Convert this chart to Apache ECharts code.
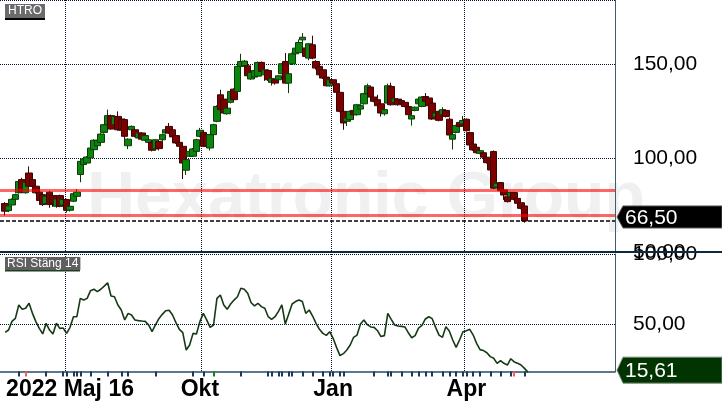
<!DOCTYPE html>
<html><head><meta charset="utf-8">
<script src="https://cdn.jsdelivr.net/npm/echarts@6/dist/echarts.min.js"></script>
<style>html,body{margin:0;padding:0;background:#fff}#c{width:722px;height:410px}</style>
</head><body><div id="c"></div>
<script>
// candles: [open, close, low, high], one per slot starting at slot 1
const candles = [
[75.8,71.7,69.4,76.5],[72.0,74.5,71.2,75.0],[75.0,78.0,74.5,78.5],[78.0,80.5,77.5,81.0],[81.5,87.5,81.0,88.0],
[88.5,82.0,81.5,89.5],[81.5,87.0,81.0,88.0],[92.0,85.0,84.5,95.5],[88.5,85.0,84.5,89.0],[85.0,81.5,81.0,85.5],
[81.8,77.4,77.0,82.0],[80.5,75.2,74.5,81.0],[75.8,79.6,75.0,80.5],[81.8,75.2,73.5,82.5],[80.0,75.8,74.0,80.5],
[74.3,78.2,73.5,78.8],[80.0,74.3,73.8,80.5],[75.0,77.9,74.5,78.5],[77.9,72.2,71.0,78.3],[72.2,74.3,71.5,75.0],
[77.0,81.0,76.5,81.5],[79.6,81.8,79.0,83.5],[91.2,98.2,87.1,98.5],[96.5,99.5,96.0,100.0],[97.3,100.5,97.0,101.0],
[100.0,105.3,99.5,106.0],[104.4,109.4,104.0,110.0],[106.5,109.4,106.0,110.0],[108.3,112.7,108.0,113.2],[113.6,117.7,113.0,118.0],
[117.7,122.5,117.0,125.7],[122.5,115.4,115.0,123.0],[117.7,122.1,117.0,122.5],[122.1,115.0,114.5,124.8],[120.7,114.7,114.0,121.0],
[120.4,111.5,108.0,121.0],[106.5,110.0,104.7,110.5],[115.0,116.8,114.5,117.3],[115.0,111.5,111.0,115.5],[110.6,113.3,110.0,113.8],
[113.3,110.0,109.5,113.8],[109.4,111.9,109.0,112.4],[108.3,109.7,107.5,110.0],[108.3,104.1,103.5,108.8],[104.8,109.7,104.0,110.0],
[108.8,105.0,104.0,109.2],[109.7,112.4,109.0,113.0],[113.3,115.0,112.8,115.5],[116.8,113.3,112.8,118.6],[115.0,111.2,110.8,115.5],
[111.9,108.0,107.5,112.4],[108.3,106.2,105.8,108.8],[106.2,97.3,88.8,106.6],[93.5,99.1,91.0,99.5],[100.9,103.5,100.5,104.0],
[100.9,104.8,100.5,105.3],[103.5,109.7,103.0,110.2],[111.5,114.7,111.0,116.0],[113.6,106.2,105.8,114.7],[112.4,106.2,105.5,112.8],
[105.3,112.4,104.0,112.8],[112.4,117.7,112.0,118.2],[119.5,127.4,119.0,128.0],[133.6,125.7,125.3,136.3],[131.3,123.9,123.5,131.8],
[123.5,126.5,123.0,127.0],[129.6,135.4,129.0,136.0],[136.6,131.0,130.5,137.0],[135.4,148.7,134.5,149.0],[148.7,151.3,146.0,155.4],
[149.0,151.5,145.0,152.0],[149.0,143.7,143.0,151.0],[142.0,145.5,141.5,146.0],[143.0,146.5,142.5,147.0],[143.5,150.8,143.0,151.3],
[150.8,146.0,145.0,151.3],[144.2,146.9,141.0,147.3],[146.5,141.6,141.0,147.0],[140.2,142.3,138.5,142.8],[141.6,139.8,139.0,142.0],
[141.6,143.7,141.0,144.0],[144.8,150.1,144.5,150.5],[151.3,139.8,139.5,155.8],[139.8,144.8,134.5,145.2],[150.0,155.4,149.5,156.0],
[155.4,158.4,155.0,160.0],[156.0,161.4,155.5,163.0],[162.8,164.2,161.0,166.4],[158.5,154.0,153.5,159.0],[153.1,160.7,152.0,161.2],
[160.2,153.1,152.5,165.0],[151.3,147.8,147.0,152.0],[148.7,144.2,143.8,149.0],[146.9,142.5,142.0,147.3],[143.0,138.4,138.0,143.5],
[138.4,141.6,138.0,142.0],[141.6,139.8,139.3,142.0],[139.5,134.9,134.5,140.0],[134.9,124.8,124.3,135.3],[124.8,118.6,115.0,125.2],
[119.5,121.2,117.0,121.6],[120.4,124.8,120.0,125.2],[125.3,123.0,120.5,125.8],[123.0,128.3,122.5,128.8],[126.0,127.8,125.5,128.5],
[128.8,134.2,128.3,134.6],[134.2,138.4,133.8,139.5],[137.7,132.4,132.0,138.2],[132.4,130.1,129.6,133.0],[131.0,127.8,127.3,133.6],
[128.8,123.9,122.0,129.2],[123.5,125.7,122.5,126.5],[129.2,138.4,128.8,139.5],[138.0,128.3,127.8,140.0],[129.7,131.5,129.0,132.0],
[131.3,128.3,127.8,131.8],[130.5,129.0,128.5,131.0],[129.6,127.4,126.9,130.0],[127.4,123.0,122.5,127.8],[120.7,122.5,117.2,123.0],
[125.3,127.0,124.8,127.4],[128.8,131.3,128.3,131.8],[127.4,132.4,127.0,132.8],[132.7,130.1,129.6,134.5],[131.9,127.8,127.4,132.3],
[129.2,120.7,120.2,129.6],[121.8,123.9,121.3,124.4],[124.8,120.0,119.5,125.2],[123.0,125.7,122.5,127.0],[125.3,122.1,121.5,125.8],
[120.6,112.2,111.8,121.6],[110.0,112.4,104.5,112.8],[113.6,117.2,113.0,117.7],[118.9,116.8,116.3,119.5],[118.1,119.9,117.5,122.3],
[120.6,114.5,114.0,121.0],[113.5,106.9,106.4,114.0],[107.4,104.3,103.8,107.8],[105.7,102.8,102.3,106.0],[102.5,103.9,102.0,104.3],
[102.8,100.4,99.9,103.2],[100.4,97.5,97.0,100.8],[97.2,93.6,93.1,98.4],[103.4,83.9,83.4,104.0],[84.4,86.5,84.0,87.0],
[86.9,82.6,82.1,87.2],[83.0,80.3,77.7,83.4],[79.4,76.8,76.3,79.8],[79.4,81.6,79.0,82.0],[81.6,78.0,77.5,82.0],
[78.5,75.9,75.4,79.0],[76.2,73.2,72.7,76.7],[74.5,66.5,65.6,75.0]
];
const rsi = [
44.0,45.7,51.9,54.0,63.6,60.5,61.2,64.8,57.6,51.7,
46.9,42.9,50.5,45.7,42.9,50.5,46.9,47.1,43.3,47.6,
55.2,55.2,68.3,67.1,68.3,73.8,74.8,73.1,74.8,77.1,
79.5,70.0,69.5,63.6,60.0,52.9,57.6,56.4,52.9,52.4,
52.1,51.9,49.3,44.5,49.3,53.8,56.9,59.5,59.8,56.4,
51.0,46.2,43.8,31.4,35.0,43.3,42.9,51.7,57.6,52.9,
47.6,49.3,68.3,70.7,63.6,60.5,64.3,67.1,69.5,75.5,
74.8,71.9,65.2,62.9,64.8,62.4,61.2,55.2,53.3,55.2,
59.0,63.6,50.0,57.1,64.3,66.0,67.1,66.0,57.6,60.0,
55.7,50.5,46.2,43.3,41.9,44.5,39.8,33.3,27.4,28.8,
31.4,35.0,40.5,42.1,50.0,52.9,49.5,47.9,47.6,45.2,
41.0,41.7,57.6,53.3,49.3,48.6,48.3,47.9,43.8,40.2,
41.7,47.1,49.0,53.6,55.2,53.8,47.6,42.1,40.5,48.1,
45.0,38.6,33.3,38.6,44.5,45.2,46.2,42.1,36.2,31.7,
31.0,29.5,26.7,25.5,21.9,23.8,21.9,20.7,25.2,22.9,
21.9,20.7,18.3,15.61
];
const slotCount = 180;
const xTickIdx = [20, 58, 97, 136];
const xTickLabels = ['2022 Maj 16', 'Okt', 'Jan', 'Apr'];
const gridLineIdx = [19, 59, 97, 136];
const eventIdx = [5,13,18,19,21,22,23,26,31,35,37,45,56,59,70,78,79,81,82,84,85,88,91,94,96,97,99,100,109,113,114,117,120,122,124,126,129,131,133,135,136,138,140,143,146,149,153];
const eventRedIdx = [7, 150];
const eventGreenIdx = [62];
const levelLines = [83.0, 69.5];
const lastPrice = 66.50;
const lastRsi = 15.61;
const rsiLevels = [50, 100];

const categories = Array.from({length: slotCount}, (_, i) => String(i));
const candleData = [['-','-','-','-']].concat(candles);
const rsiData = ['-'].concat(rsi);
const fmt = v => Number(v).toFixed(2).replace('.', ',');
const FONT = '"Liberation Sans", Arial, sans-serif';
const dotted = {color: '#00152b', type: [1, 1], width: 1};

const chart = echarts.init(document.getElementById('c'), null, {renderer: 'canvas'});
const catAxisBase = (gi) => ({
  type: 'category', gridIndex: gi, data: categories, boundaryGap: true,
  axisLine: {show: false}, axisTick: {show: false}, axisLabel: {show: false},
  splitLine: {show: true, interval: (i) => gridLineIdx.includes(i), lineStyle: dotted}
});
chart.setOption({
  animation: false,
  title: [
    {text: 'HTRO', left: 5, top: 4, padding: [1, 3, 1, 3], backgroundColor: '#6b6b6b',
     textStyle: {color: '#fff', fontSize: 12, fontWeight: 'normal', fontFamily: FONT, lineHeight: 12}},
    {text: 'RSI Stäng 14', left: 5, top: 257, padding: [1, 2, 0, 2], backgroundColor: '#5f5f5f',
     textStyle: {color: '#fff', fontSize: 12, fontWeight: 'normal', fontFamily: FONT, lineHeight: 12}}
  ],
  grid: [
    {left: 0, top: 0, width: 615, height: 252},
    {left: 0, top: 254, width: 615, height: 117.6}
  ],
  xAxis: [
    catAxisBase(0),
    Object.assign(catAxisBase(1), {
      position: 'bottom',
      axisLine: {show: true, lineStyle: {color: '#29486a', width: 1.5}},
      axisTick: {show: true, alignWithLabel: true, interval: (i) => eventIdx.includes(i), length: 5, lineStyle: {color: '#1d3a57', width: 2}},
      axisLabel: {show: true, interval: (i) => xTickIdx.includes(i), margin: 7,
        formatter: (v) => { const j = xTickIdx.indexOf(Number(v)); return j >= 0 ? xTickLabels[j] : ''; },
        color: '#000', fontSize: 23, fontWeight: 'bold', fontFamily: FONT}
    }),
    Object.assign(catAxisBase(1), {position: 'bottom', splitLine: {show: false},
      axisTick: {show: true, alignWithLabel: true, interval: (i) => eventRedIdx.includes(i), length: 5, lineStyle: {color: '#ff5a5a', width: 2}}}),
    Object.assign(catAxisBase(1), {position: 'bottom', splitLine: {show: false},
      axisTick: {show: true, alignWithLabel: true, interval: (i) => eventGreenIdx.includes(i), length: 5, lineStyle: {color: '#0a8a0a', width: 2}}})
  ],
  yAxis: [
    {type: 'value', gridIndex: 0, position: 'right', min: 50, max: 184, interval: 50,
     axisLine: {show: true, lineStyle: {color: '#3d5b78', width: 1}}, axisTick: {show: false},
     axisLabel: {margin: 18, color: '#000', fontSize: 21, fontFamily: FONT, formatter: fmt, showMaxLabel: false},
     splitLine: {show: true, lineStyle: dotted}},
    {type: 'value', gridIndex: 1, position: 'right', min: 16, max: 100,
     axisLine: {show: true, lineStyle: {color: '#3d5b78', width: 1}}, axisTick: {show: false},
     axisLabel: {customValues: rsiLevels, margin: 18, color: '#000', fontSize: 21, fontFamily: FONT, formatter: fmt},
     splitLine: {show: false}}
  ],
  series: [
    {type: 'candlestick', xAxisIndex: 0, yAxisIndex: 0, data: candleData, barWidth: 7,
     itemStyle: {color: '#0c850c', color0: '#7d0000', borderColor: '#0b3b0b', borderColor0: '#3b0505', borderWidth: 1},
     markLine: {silent: true, symbol: ['none', 'none'], label: {show: false}, animation: false,
       data: levelLines.map(v => ({yAxis: v, lineStyle: {color: 'rgba(255,0,0,0.6)', width: 3, type: 'solid'}}))
         .concat([{yAxis: lastPrice, lineStyle: {color: '#000', width: 1.5, type: [4, 2]}}])}
    },
    {type: 'line', xAxisIndex: 1, yAxisIndex: 1, data: rsiData, showSymbol: false, clip: false,
     lineStyle: {color: '#163a16', width: 1.6},
     markLine: {silent: true, symbol: ['none', 'none'], label: {show: false}, animation: false,
       data: rsiLevels.map(v => ({yAxis: v, lineStyle: dotted}))}
    }
  ]
});

const yP = chart.convertToPixel({yAxisIndex: 0}, lastPrice);
const yR = chart.convertToPixel({yAxisIndex: 1}, lastRsi);
function tagBox(id, yc, h, fill, stroke, text) {
  return {type: 'group', id: id, z: 100, children: [
    {type: 'polygon', shape: {points: [[617, yc], [623, yc - h / 2], [722, yc - h / 2], [722, yc + h / 2], [623, yc + h / 2]]},
     style: {fill: fill, stroke: stroke, lineWidth: 1}},
    {type: 'text', style: {x: 625, y: yc + 1, text: text, fill: '#fff', font: '21px ' + FONT, textVerticalAlign: 'middle'}}
  ]};
}
chart.setOption({
  graphic: [
    {type: 'text', id: 'wm', z: -10, silent: true,
     style: {x: 366, y: 200, text: 'Hexatronic Group', fill: '#f0f0f0', font: 'bold 66px ' + FONT, textAlign: 'center', textVerticalAlign: 'middle'}},
    {type: 'rect', id: 'sep', z: 50, shape: {x: 0, y: 251, width: 722, height: 2}, style: {fill: '#0d2b40'}},
    {type: 'rect', id: 'ul1', z: 50, shape: {x: 5, y: 18, width: 40, height: 2}, style: {fill: '#000'}},
    {type: 'rect', id: 'ul2', z: 50, shape: {x: 5, y: 270, width: 75, height: 1.6}, style: {fill: '#1e3e1e'}},
    tagBox('tagP', yP - 4, 22, '#000', '#555', fmt(lastPrice)),
    tagBox('tagR', yR - 2, 26, '#013401', '#7a8a7a', fmt(lastRsi))
  ]
});
</script>
</body></html>
